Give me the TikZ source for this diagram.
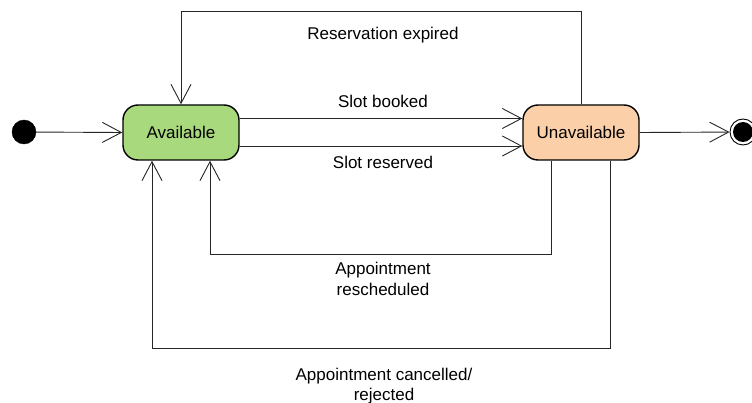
\documentclass[tikz,border=0pt]{standalone}
\usepackage{fontspec}
\setmainfont{Liberation Sans}
\usetikzlibrary{arrows.meta}
\definecolor{availgreen}{HTML}{A8D97C}
\definecolor{unavorange}{HTML}{FBCFA8}
\tikzset{
  state/.style={draw=black, line width=1.4pt, rounded corners=15pt, minimum width=116pt, minimum height=55pt, inner sep=0pt, font=\fontsize{17}{20}\selectfont},
  edge/.style={draw=black!85, line width=0.9pt, -{Straight Barb[length=19pt,width=20pt,line width=0.9pt]}},
  plain/.style={draw=black!85, line width=0.9pt},
  lbl/.style={font=\fontsize{17}{20.5}\selectfont, align=center, inner sep=0pt}
}
\begin{document}
\begin{tikzpicture}[x=1pt,y=-1pt]
\useasboundingbox (0,0) rectangle (752,403);
\node[circle, fill=black, draw=black, minimum size=24pt, inner sep=0pt] (init) at (24,132) {};
\node[state, fill=availgreen] (avail) at (181,132.5) {Available};
\node[state, fill=unavorange] (unav) at (581,132.5) {Unavailable};
\node[circle, draw=black, line width=0.9pt, minimum size=26pt, inner sep=0pt] (final) at (743,132) {};
\node[circle, fill=black, minimum size=20pt, inner sep=0pt] (finalin) at (final.center) {};

\draw[edge] (init) -- (avail.west);
\draw[edge] ([yshift=14pt]avail.east) -- ([yshift=14pt]unav.west);
\draw[edge] ([yshift=-13.5pt]avail.east) -- ([yshift=-13.5pt]unav.west);
\draw[edge] (unav.north) -- ++(0,-93) -| (avail.north);
\draw[edge] ([xshift=-30pt]unav.south) -- ++(0,94) -| ([xshift=29pt]avail.south);
\draw[edge] ([xshift=29pt]unav.south) -- ++(0,188) -| ([xshift=-29pt]avail.south);
\draw[edge] (unav.east) -- (final);

\node[lbl] (l1) at (383,35) {Reservation expired};
\node[lbl] (l2) at (383,101) {Slot booked};
\node[lbl] (l3) at (383,162) {Slot reserved};
\node[lbl] (l4) at (383,279) {Appointment\\rescheduled};
\node[lbl] (l5) at (384,386) {Appointment cancelled/\\rejected};
\end{tikzpicture}
\end{document}
